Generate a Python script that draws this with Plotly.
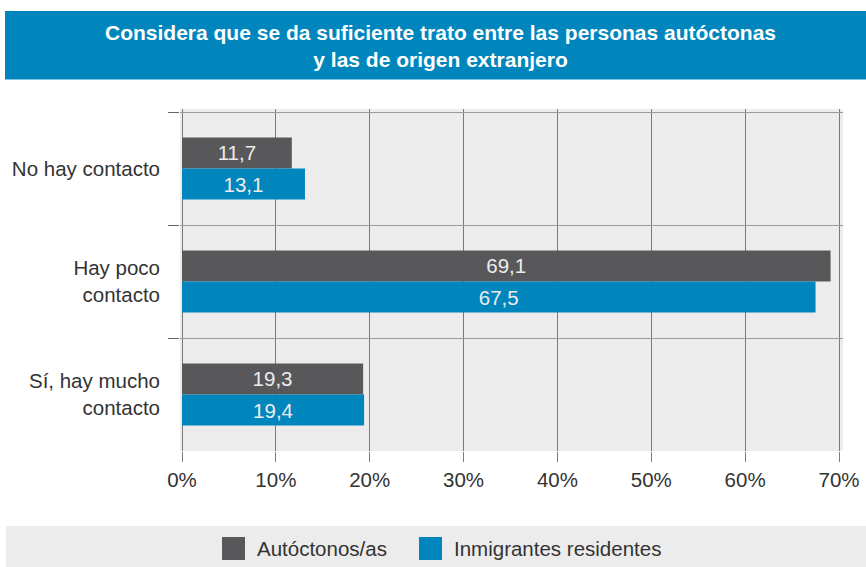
import plotly.graph_objects as go

categories = ["No hay contacto", "Hay poco<br>contacto", "Sí, hay mucho<br>contacto"]
series_names = ["Autóctonos/as", "Inmigrantes residentes"]
autoctonos = [11.7, 69.1, 19.3]
inmigrantes = [13.1, 67.5, 19.4]
series_values = [autoctonos, inmigrantes]
series_colors = ["#58585a", "#0085bd"]
x_tickvals = [0, 10, 20, 30, 40, 50, 60, 70]
x_ticktext = ["0%", "10%", "20%", "30%", "40%", "50%", "60%", "70%"]
title_text = "Considera que se da suficiente trato entre las personas autóctonas<br>y las de origen extranjero"

W, H = 866, 567
FONT = "Liberation Sans"
FS = 20.5

def fmt(v):
    return f"{v:.1f}".replace(".", ",")

fig = go.Figure()
for name, vals, col in zip(series_names, series_values, series_colors):
    fig.add_trace(go.Bar(
        y=categories, x=vals, orientation="h", name=name,
        marker=dict(color=col, line=dict(width=0)),
        text=[fmt(v) for v in vals], textposition="inside",
        insidetextanchor="middle", constraintext="none",
        textfont=dict(color="#ececec", size=FS, family=FONT),
        hoverinfo="skip", showlegend=False,
    ))

shapes = [
    # title band
    dict(type="rect", xref="paper", yref="paper", x0=5 / W, x1=1, y0=1 - 79 / H, y1=1 - 11 / H,
         fillcolor="#0086bd", line=dict(width=0), layer="below"),
    dict(type="line", xref="paper", yref="paper", x0=5 / W, x1=1, y0=1 - 79.5 / H, y1=1 - 79.5 / H,
         line=dict(color="#7cc3e3", width=1)),
    # legend band
    dict(type="rect", xref="paper", yref="paper", x0=6 / W, x1=1, y0=0, y1=1 - 526 / H,
         fillcolor="#ececec", line=dict(width=0), layer="below"),
]
annotations = [
    dict(text="<b>" + title_text + "</b>", xref="paper", yref="paper", x=440 / W, y=1 - 46 / H,
         xanchor="center", yanchor="middle", showarrow=False,
         font=dict(color="white", size=21, family=FONT)),
]
# custom legend
leg_sq_x = [222, 419]
for i, (name, col) in enumerate(zip(series_names, series_colors)):
    sx = leg_sq_x[i]
    shapes.append(dict(type="rect", xref="paper", yref="paper", x0=sx / W, x1=(sx + 23) / W,
                       y0=1 - 560 / H, y1=1 - 537 / H, fillcolor=col, line=dict(width=0)))
    annotations.append(dict(text=name, xref="paper", yref="paper", x=(sx + 33) / W, y=1 - 548 / H,
                            xanchor="left", yanchor="middle", showarrow=False,
                            font=dict(color="#333333", size=FS, family=FONT)))

x0px, x1px = 180, 843
zero_px, seventy_px = 182, 839
u = (seventy_px - zero_px) / 70.0
xr = [-(zero_px - x0px) / u, 70 + (x1px - seventy_px) / u]

fig.update_layout(
    width=W, height=H, autosize=False,
    margin=dict(l=0, r=0, t=0, b=0, pad=0, autoexpand=False),
    paper_bgcolor="white", plot_bgcolor="#ececec",
    barmode="group", bargap=0.451, bargroupgap=0,
    font=dict(family=FONT, color="#333333", size=FS),
    shapes=shapes, annotations=annotations,
    showlegend=False,
    xaxis=dict(domain=[x0px / W, x1px / W], range=xr, tickvals=x_tickvals, ticktext=x_ticktext,
               showgrid=True, gridcolor="#7a7a7a", gridwidth=1.3, zeroline=False, automargin=False,
               ticks="outside", ticklen=10, tickcolor="#7a7a7a", tickwidth=1.3,
               tickfont=dict(size=FS, color="#333333", family=FONT), fixedrange=True),
    yaxis=dict(domain=[1 - 451 / H, 1 - 109 / H], range=[2.5, -0.5 - 3 / 113.0], automargin=False,
               tickson="boundaries", ticks="outside", ticklen=11, tickcolor="#666666",
               ticklabelstandoff=19,
               showgrid=True, gridcolor="#9a9a9a", gridwidth=1, zeroline=False,
               tickfont=dict(size=FS, color="#333333", family=FONT), fixedrange=True),
)

fig.write_html("out.html", config={"displayModeBar": False, "responsive": False},
               post_script="document.body.style.margin='0';document.body.style.overflow='hidden';")
